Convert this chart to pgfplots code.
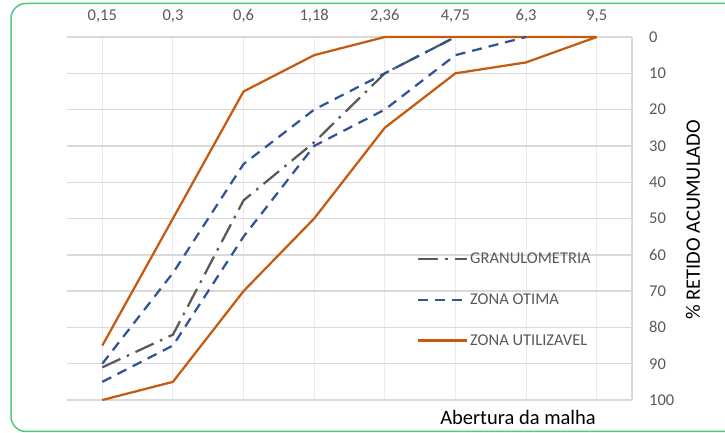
\documentclass[border=0pt]{standalone}
\usepackage{fontspec}
\setmainfont{Carlito}
\usepackage{pgfplots}
\pgfplotsset{compat=1.18}
\definecolor{orng}{RGB}{197,90,17}
\definecolor{blu}{RGB}{47,85,151}
\definecolor{gry}{RGB}{89,89,89}
\definecolor{txtgray}{RGB}{89,89,89}
\definecolor{grd}{RGB}{217,217,217}
\definecolor{vgrd}{RGB}{235,235,235}
\definecolor{grn}{RGB}{80,200,130}
\begin{document}
\begin{tikzpicture}
\useasboundingbox (0,0) rectangle (725pt,433pt);
\draw[grn, line width=1.5pt, rounded corners=15pt] (11pt,1.5pt) rectangle (760pt,429.5pt);
\begin{axis}[
  scale only axis,
  width=565pt, height=363pt,
  at={(67pt,33pt)}, anchor=south west,
  xmin=-0.5, xmax=7.5,
  ymin=0, ymax=100,
  y dir=reverse,
  xtick={0,...,7},
  xticklabels={{0,15},{0,3},{0,6},{1,18},{2,36},{4,75},{6,3},{9,5}},
  ytick={0,10,...,100},
  xticklabel pos=top,
  yticklabel pos=right,
  major tick length=0pt,
  /pgf/number format/assume math mode=true,
  xticklabel style={font=\fontsize{16.5}{18}\selectfont, text=txtgray, anchor=base, inner sep=0pt, yshift=16.5pt},
  yticklabel style={font=\fontsize{16.5}{18}\selectfont, text=txtgray, anchor=west, inner sep=0pt, xshift=17pt},
  axis line style={draw=none},
  xmajorgrids, ymajorgrids,
  x grid style={vgrd, line width=1pt},
  y grid style={grd, line width=1.4pt},
  legend style={font=\fontsize{16.5}{18}\selectfont, text=txtgray, draw=none, fill=none,
    at={(0.619,0.411)}, anchor=north west, row sep=24.5pt, inner sep=0pt,
    nodes={inner sep=2pt}},
  legend cell align=left,
  legend image code/.code={\draw[#1] (0pt,0pt) -- (49pt,0pt);},
  clip=false,
]
\draw[grd, line width=1.4pt] (rel axis cs:1,0) -- (rel axis cs:1,1);
% Zona utilizavel
\addplot[orng, line width=2.25pt, forget plot] coordinates {(0,100) (1,95) (2,70) (3,50) (4,25) (5,10) (6,7) (7,0)};
\addplot[orng, line width=2.25pt, forget plot] coordinates {(0,85) (1,50) (2,15) (3,5) (4,0) (5,0) (6,0) (7,0)};
% Granulometria
\addplot[gry, line width=2.25pt, dash pattern=on 20pt off 7pt on 2.5pt off 7pt, forget plot] coordinates {(0,91) (1,82) (2,45) (3,29) (4,10) (5,0)};
% Zona otima
\addplot[blu, line width=2.25pt, dash pattern=on 10pt off 7pt, forget plot] coordinates {(0,90) (1,65) (2,35) (3,20) (4,10) (5,0)};
\addplot[blu, line width=2.25pt, dash pattern=on 10pt off 7pt, forget plot] coordinates {(0,95) (1,85) (2,55) (3,30) (4,20) (5,5) (6,0)};
\addlegendimage{gry, line width=2.25pt, dash pattern=on 20pt off 7pt on 2.5pt off 7pt}
\addlegendentry{GRANULOMETRIA}
\addlegendimage{blu, line width=2.25pt, dash pattern=on 10pt off 7pt}
\addlegendentry{ZONA OTIMA}
\addlegendimage{orng, line width=2.25pt}
\addlegendentry{ZONA UTILIZAVEL}
\end{axis}
\node[font=\fontsize{20.5}{22}\selectfont, anchor=center] at (518pt,16pt) {Abertura da malha};
\node[font=\fontsize{20.5}{22}\selectfont, rotate=90, anchor=center] at (693pt,213pt) {\% RETIDO ACUMULADO};
\end{tikzpicture}
\end{document}
